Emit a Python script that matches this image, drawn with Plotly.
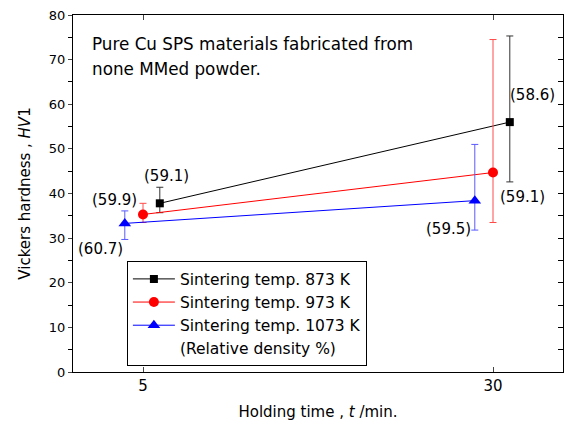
import plotly.graph_objects as go

# Data
names = ["Sintering temp. 873 K", "Sintering temp. 973 K", "Sintering temp. 1073 K"]
x_873 = [6.2, 31.2]
y_873 = [37.8, 56.0]
err_up_873 = [3.6, 19.3]
err_dn_873 = [2.1, 13.4]

x_973 = [5.0, 30.0]
y_973 = [35.3, 44.7]
err_up_973 = [2.5, 29.8]
err_dn_973 = [1.8, 11.2]

x_1073 = [3.7, 28.7]
y_1073 = [33.3, 38.4]
err_up_1073 = [2.8, 12.6]
err_dn_1073 = [3.6, 6.6]

density_labels = ["(59.1)", "(58.6)", "(59.9)", "(59.1)", "(60.7)", "(59.5)"]
note_lines = ["Pure Cu SPS materials fabricated from", "none MMed powder."]

y_ticks = [0, 10, 20, 30, 40, 50, 60, 70, 80]
x_ticks = [5, 30]

FONT = "DejaVu Sans"

fig = go.Figure()

series = [
    (x_873, y_873, err_up_873, err_dn_873, "black", "#333333", "square", 8, names[0]),
    (x_973, y_973, err_up_973, err_dn_973, "red", "#ff4a4a", "circle", 10, names[1]),
    (x_1073, y_1073, err_up_1073, err_dn_1073, "blue", "#5a5aff", "triangle-up", 11, names[2]),
]
for xs, ys, eu, ed, col, ecol, sym, sz, nm in series:
    fig.add_trace(go.Scatter(
        x=xs, y=ys, mode="lines+markers", name=nm,
        line=dict(color=col, width=1),
        marker=dict(symbol=sym, size=sz, color=col),
        error_y=dict(type="data", symmetric=False, array=eu, arrayminus=ed,
                     color=ecol, thickness=1, width=3.5),
    ))

fig.add_trace(go.Scatter(
    x=[None], y=[None], mode="markers", name="(Relative density %)",
    marker=dict(color="rgba(0,0,0,0)", size=1),
))
fig.add_trace(go.Scatter(x=[None], y=[None], yaxis="y2", showlegend=False))

# density annotations (pixel offsets from the marker)
ann_pos = [
    (x_873[0], y_873[0], 7, 27),
    (x_873[1], y_873[1], 23, 27),
    (x_973[0], y_973[0], -29, 14),
    (x_973[1], y_973[1], 29, -24),
    (x_1073[0], y_1073[0], -24, -26),
    (x_1073[1], y_1073[1], -26, -28),
]
anns = []
for (ax_, ay_, dx, dy), txt in zip(ann_pos, density_labels):
    anns.append(dict(x=ax_, y=ay_, text=txt, showarrow=False, xshift=dx, yshift=dy,
                     font=dict(family=FONT, size=15, color="black")))

for i, line in enumerate(note_lines):
    anns.append(dict(xref="paper", yref="paper", x=0.035, y=0.92 - i * 0.07,
                     xanchor="left", yanchor="middle", text=line,
                     showarrow=False, align="left",
                     font=dict(family=FONT, size=16.8, color="black")))

fig.update_layout(
    width=565, height=425, autosize=False,
    margin=dict(l=73, r=2, t=15, b=53),
    plot_bgcolor="white", paper_bgcolor="white",
    font=dict(family=FONT, size=13, color="black"),
    showlegend=True,
    legend=dict(x=0.11, y=0.31, xanchor="left", yanchor="top",
                bordercolor="black", borderwidth=1, bgcolor="white",
                font=dict(family=FONT, size=15.5), itemwidth=42,
                tracegroupgap=0),
    annotations=anns,
    xaxis=dict(range=[0, 35], tickvals=x_ticks, ticks="inside", ticklen=5,
               showline=True, linecolor="black", linewidth=1, mirror="ticks",
               showgrid=False, zeroline=False, automargin=False,
               tickfont=dict(family=FONT, size=15),
               title=dict(text="Holding time , <i>t</i> /min.", standoff=12,
                          font=dict(family=FONT, size=15))),
    yaxis=dict(range=[0, 80], tickvals=y_ticks,
               ticks="outside", ticklen=4, showline=True, linecolor="black",
               linewidth=1, mirror=True, showgrid=False, zeroline=False,
               automargin=False, tickfont=dict(family=FONT, size=13),
               minor=dict(dtick=5, ticks="outside", ticklen=4, tickcolor="black"),
               title=dict(text="Vickers hardness , <i>HV</i>1", standoff=14,
                          font=dict(family=FONT, size=15))),
    yaxis2=dict(range=[0, 80], overlaying="y", side="right", showticklabels=False,
                tickvals=y_ticks, ticks="inside", ticklen=5, automargin=False,
                tickcolor="black",
                minor=dict(dtick=5, ticks="inside", ticklen=5, tickcolor="black"),
                showgrid=False, zeroline=False, showline=False),
)

post = ("document.body.style.margin='0';document.body.style.overflow='hidden';"
        "var gd=document.getElementById('{plot_id}');"
        "Plotly.relayout(gd,{width:565,height:425});")

fig.write_html("out.html", post_script=post, config={"displayModeBar": False})
